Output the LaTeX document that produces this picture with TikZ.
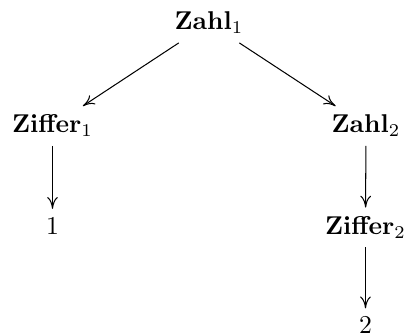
\documentclass[tikz,border=0pt]{standalone}
\usetikzlibrary{arrows.meta}
\begin{document}
\begin{tikzpicture}[x=0.3891pt, y=-0.3891pt,
  tnode/.style={inner sep=3.33pt, anchor=base},
  edge/.style={-{Computer Modern Rightarrow[length=4.6pt,width=4.2pt]}, line width=0.4pt}]
  \useasboundingbox (0,0) rectangle (405,335);
  % derivation tree
  \node[tnode] (z1)  at (209,30)    {$\mathbf{Zahl}_1$};
  \node[tnode] (f1)  at (52.5,133)  {$\mathbf{Ziffer}_1$};
  \node[tnode] (z2)  at (366,133)   {$\mathbf{Zahl}_2$};
  \node[tnode] (one) at (52.5,234.5) {$1$};
  \node[tnode] (f2)  at (365.5,234.5) {$\mathbf{Ziffer}_2$};
  \node[tnode] (two) at (365.5,334) {$2$};
  \draw[edge] (z1) -- (f1);
  \draw[edge] (z1) -- (z2);
  \draw[edge] (f1) -- (one);
  \draw[edge] (z2) -- (f2);
  \draw[edge] (f2) -- (two);
\end{tikzpicture}
\end{document}
